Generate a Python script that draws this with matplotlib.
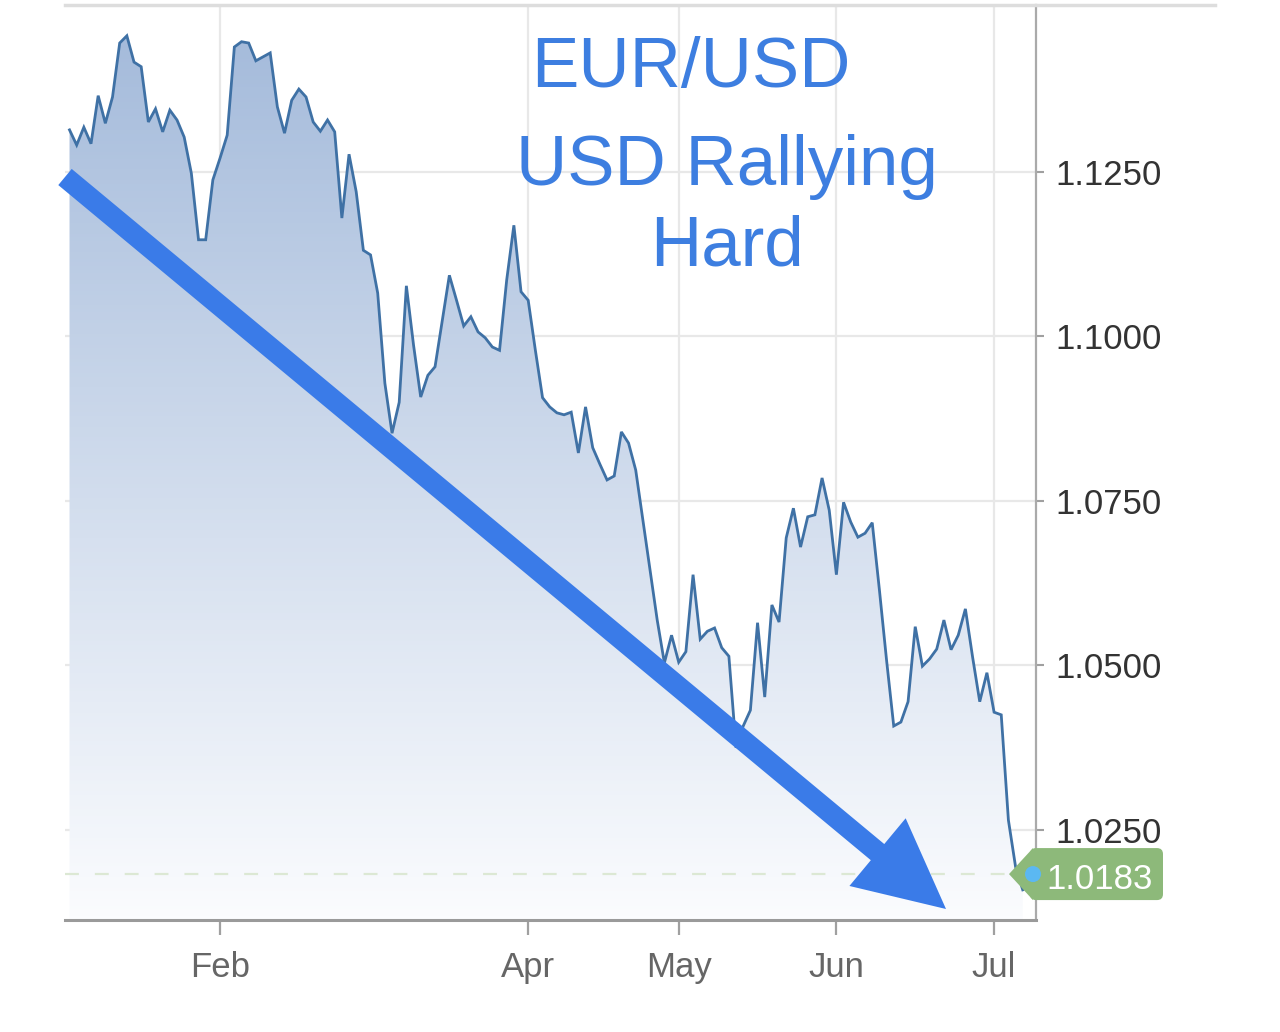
import numpy as np
import pandas as pd
import matplotlib
matplotlib.use('Agg')
import matplotlib.pyplot as plt
from matplotlib.colors import LinearSegmentedColormap
from matplotlib.patches import PathPatch, FancyArrow, Polygon, FancyBboxPatch, Circle
from matplotlib.lines import Line2D
from matplotlib.transforms import IdentityTransform

plt.rcParams['font.family'] = ['Liberation Sans', 'DejaVu Sans']
plt.rcParams['lines.scale_dashes'] = False

# EUR/USD daily closes, one per trading day from 2022-01-03
eurusd = [
    1.1314, 1.1291, 1.1318, 1.1293, 1.1366, 1.1324, 1.1364, 1.1446, 1.1457, 1.1417,
    1.1410, 1.1326, 1.1346, 1.1311, 1.1344, 1.1329, 1.1303, 1.1248, 1.1147, 1.1147,
    1.1238, 1.1271, 1.1306, 1.1440, 1.1448, 1.1446, 1.1419, 1.1425, 1.1431, 1.1349,
    1.1309, 1.1359, 1.1376, 1.1364, 1.1326, 1.1312, 1.1329, 1.1311, 1.1180, 1.1277,
    1.1220, 1.1131, 1.1124, 1.1066, 1.0929, 1.0853, 1.0900, 1.1077, 1.0987, 1.0908,
    1.0941, 1.0954, 1.1024, 1.1093, 1.1055, 1.1016, 1.1030, 1.1007, 1.0998, 1.0984,
    1.0979, 1.1086, 1.1169, 1.1068, 1.1055, 1.0979, 1.0907, 1.0893, 1.0884, 1.0881,
    1.0885, 1.0823, 1.0893, 1.0831, 1.0806, 1.0782, 1.0788, 1.0855, 1.0838, 1.0797,
    1.0721, 1.0645, 1.0569, 1.0504, 1.0546, 1.0505, 1.0521, 1.0638, 1.0540, 1.0552,
    1.0557, 1.0527, 1.0514, 1.0375, 1.0408, 1.0432, 1.0565, 1.0452, 1.0592, 1.0566,
    1.0694, 1.0739, 1.0680, 1.0726, 1.0729, 1.0785, 1.0736, 1.0638, 1.0748, 1.0718,
    1.0695, 1.0701, 1.0717, 1.0615, 1.0508, 1.0408, 1.0414, 1.0445, 1.0559, 1.0499,
    1.0510, 1.0525, 1.0569, 1.0524, 1.0546, 1.0586, 1.0513, 1.0445, 1.0489, 1.0429,
    1.0425, 1.0265, 1.0194, 1.0159,
]
start_date = '2022-01-03'
shown_months = ['Feb', 'Apr', 'May', 'Jun', 'Jul']
y_ticks = [1.0250, 1.0500, 1.0750, 1.1000, 1.1250]
last_price = 1.0183
title_lines = ['EUR/USD', 'USD Rallying', 'Hard']

dates = pd.bdate_range(start_date, periods=len(eurusd))
x = np.arange(len(eurusd))
tick_pos, tick_lab = [], []
for i in range(1, len(dates)):
    if dates[i].month != dates[i - 1].month and dates[i].strftime('%b') in shown_months:
        tick_pos.append(i)
        tick_lab.append(dates[i].strftime('%b'))

W, H = 1280, 1032
fig = plt.figure(figsize=(W / 100, H / 100), dpi=100)
ax = fig.add_axes([65 / W, (H - 920) / H, (1036 - 65) / W, (920 - 5) / H])

xmin, xmax = -0.63, 134.85
ymin, ymax = 1.01132, 1.15038

# gradient area under the line
cmap = LinearSegmentedColormap.from_list('fill', ['#fbfcfe', '#a2b9da'])
grad = np.linspace(0, 1, 256).reshape(-1, 1)
im = ax.imshow(grad, cmap=cmap, origin='lower', extent=[xmin, xmax, ymin, ymax],
               aspect='auto', zorder=1)
poly = ax.fill_between(x, eurusd, ymin, facecolor='none', edgecolor='none')
clip = PathPatch(poly.get_paths()[0], transform=ax.transData, facecolor='none', edgecolor='none')
ax.add_patch(clip)
im.set_clip_path(clip)

ax.plot(x, eurusd, color='#3f71a5', lw=2.0, zorder=3, solid_joinstyle='miter')
ax.axhline(last_price, xmin=0, xmax=0.973, color='#dce8d4', lw=1.6, dashes=(10, 11.5), zorder=2)

ax.set_xlim(xmin, xmax)
ax.set_ylim(ymin, ymax)
ax.set_xticks(tick_pos)
ax.set_xticklabels(tick_lab)
ax.set_yticks(y_ticks)
ax.set_yticklabels(['%.4f' % v for v in y_ticks])
ax.yaxis.tick_right()
ax.grid(True, color='#e8e8e8', lw=1.6, zorder=0)
ax.set_axisbelow(True)
ax.tick_params(axis='y', length=6, width=1.5, color='#a0a0a0', labelsize=25, labelcolor='#333333', pad=8)
ax.tick_params(axis='x', length=11, width=1.6, color='#a0a0a0', labelsize=25, labelcolor='#666666', pad=11)
for s in ['left', 'top']:
    ax.spines[s].set_visible(False)
ax.spines['bottom'].set_color('#9a9a9a')
ax.spines['bottom'].set_linewidth(2.2)
ax.spines['right'].set_color('#aaaaaa')
ax.spines['right'].set_linewidth(1.6)

# top border line
fig.add_artist(Line2D([65, 1215], [H - 5, H - 5], transform=IdentityTransform(), color='#dddddd', lw=2.5))

# title text
tc = '#3d7ee0'
fig.text(691 / W, (H - 87) / H, title_lines[0], ha='center', va='baseline', fontsize=51, color=tc)
fig.text(727 / W, (H - 185) / H, title_lines[1], ha='center', va='baseline', fontsize=51, color=tc)
fig.text(727 / W, (H - 265) / H, title_lines[2], ha='center', va='baseline', fontsize=51, color=tc)

# big trend arrow
fig.add_artist(FancyArrow(65, H - 177, 881, -732, width=21, head_width=88, head_length=89,
                          length_includes_head=True, transform=IdentityTransform(),
                          color='#3a7be8', lw=0, zorder=5))

# last price tag
fig.canvas.draw()
yp = ax.transData.transform((0, last_price))[1]
green = '#8db97a'
fig.add_artist(Polygon([(1009, yp), (1033, yp + 26), (1033, yp - 26)], closed=True,
                       transform=IdentityTransform(), color=green, lw=0, zorder=6))
fig.add_artist(FancyBboxPatch((1030, yp - 26), 133, 52, boxstyle='round,pad=0,rounding_size=6',
                              transform=IdentityTransform(), color=green, lw=0, zorder=6))
fig.add_artist(Circle((1033, yp), 8, transform=IdentityTransform(), color='#5bb8f2', lw=0, zorder=7))
fig.text(1100 / W, (yp - 15) / H, '%.4f' % last_price, ha='center', va='baseline',
         fontsize=25, color='white', zorder=8)

fig.savefig('out.png', dpi=100)
